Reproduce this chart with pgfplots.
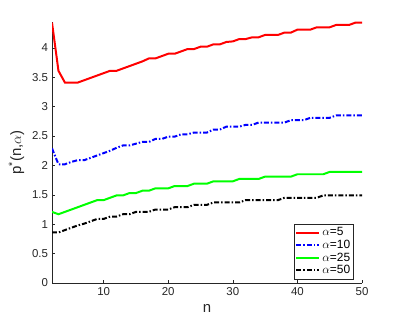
\documentclass[border=0pt]{standalone}
\usepackage{pgfplots}
\pgfplotsset{compat=1.18}
\usepackage{pgfplotstable}
\usepackage{fontspec}
\setmainfont{Liberation Sans}
\definecolor{axgray}{rgb}{0.15,0.15,0.15}
\pgfplotstableread{
n r b g k
2 4.43 2.29 1.21 0.86
3 3.61 2.02 1.17 0.86
4 3.41 2.02 1.21 0.90
5 3.41 2.06 1.25 0.94
6 3.41 2.09 1.29 0.98
7 3.45 2.09 1.33 1.01
8 3.49 2.13 1.37 1.05
9 3.53 2.17 1.41 1.09
10 3.57 2.21 1.41 1.09
11 3.61 2.25 1.45 1.13
12 3.61 2.30 1.49 1.13
13 3.65 2.34 1.49 1.17
14 3.69 2.34 1.53 1.17
15 3.73 2.37 1.53 1.21
16 3.77 2.40 1.57 1.21
17 3.82 2.40 1.57 1.21
18 3.82 2.45 1.61 1.25
19 3.86 2.45 1.61 1.25
20 3.90 2.49 1.61 1.25
21 3.90 2.49 1.65 1.29
22 3.94 2.53 1.65 1.29
23 3.98 2.53 1.65 1.29
24 3.98 2.56 1.69 1.33
25 4.02 2.56 1.69 1.33
26 4.02 2.56 1.69 1.33
27 4.06 2.61 1.73 1.37
28 4.06 2.61 1.73 1.37
29 4.10 2.66 1.73 1.37
30 4.11 2.66 1.73 1.37
31 4.15 2.66 1.77 1.37
32 4.15 2.69 1.77 1.41
33 4.18 2.69 1.77 1.41
34 4.18 2.73 1.77 1.41
35 4.22 2.73 1.81 1.41
36 4.22 2.73 1.81 1.41
37 4.22 2.73 1.81 1.41
38 4.26 2.73 1.81 1.45
39 4.26 2.77 1.81 1.45
40 4.31 2.77 1.85 1.45
41 4.31 2.77 1.85 1.45
42 4.31 2.81 1.85 1.45
43 4.35 2.81 1.85 1.45
44 4.35 2.81 1.85 1.49
45 4.35 2.81 1.89 1.49
46 4.39 2.85 1.89 1.49
47 4.39 2.85 1.89 1.49
48 4.39 2.85 1.89 1.49
49 4.43 2.85 1.89 1.49
50 4.43 2.85 1.89 1.49
}\datatable
\begin{document}
\fontsize{11.5}{13}\selectfont
\begin{tikzpicture}
\useasboundingbox (0,0) rectangle (399bp,319bp);
\begin{axis}[
  at={(52bp,36bp)}, anchor=south west,
  scale only axis, width=310bp, height=261bp,
  xmin=2, xmax=50, ymin=0, ymax=4.44,
  axis lines*=left,
  axis line style={axgray, line width=0.5pt},
  tick style={axgray, line width=0.5pt},
  tick align=inside,
  major tick length=3bp,
  xtick={10,20,30,40,50},
  ytick={0,0.5,1,1.5,2,2.5,3,3.5,4},
  ticklabel style={font=\fontsize{11.5}{13}\selectfont, text=axgray},
  /pgf/number format/assume math mode=true,
  xlabel={n}, ylabel={p\textsuperscript{*}(n,$\alpha$)},
  label style={font=\fontsize{15}{17}\selectfont, text=axgray},
  xlabel style={yshift=-1bp},
  ylabel style={yshift=0bp},
  legend style={at={(0.974,0.015)}, anchor=south east, draw=axgray, line width=0.5pt,
    fill=white, inner sep=1.5pt, row sep=-1.5pt, font=\fontsize{12}{13}\selectfont,
    cells={anchor=west}},
  legend image code/.code={\draw[#1, line width=2pt] (0bp,0bp) -- (23bp,0bp);},
]
\addplot[red, solid, line width=2pt] table[x=n, y=r] {\datatable};
\addlegendentry{$\alpha$=5}
\addplot[blue, line width=2pt, dash pattern=on 5pt off 2pt on 1.5pt off 2pt] table[x=n, y=b] {\datatable};
\addlegendentry{$\alpha$=10}
\addplot[green, solid, line width=2pt] table[x=n, y=g] {\datatable};
\addlegendentry{$\alpha$=25}
\addplot[black, line width=2pt, dash pattern=on 5pt off 2pt on 1.5pt off 2pt] table[x=n, y=k] {\datatable};
\addlegendentry{$\alpha$=50}
\end{axis}
\end{tikzpicture}
\end{document}
